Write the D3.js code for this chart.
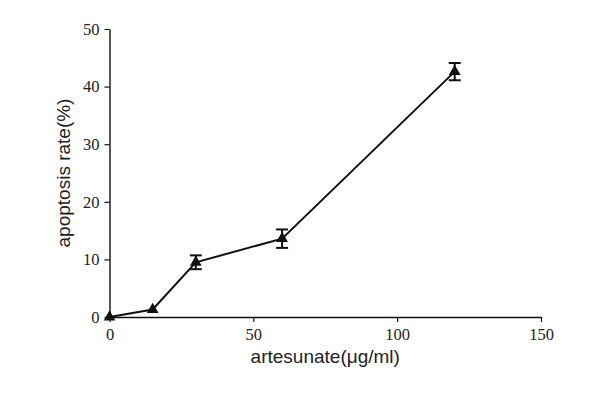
<!DOCTYPE html>
<html>
<head>
<meta charset="utf-8">
<script src="https://cdn.jsdelivr.net/npm/d3@7"></script>
<style>
    body { margin: 0; background: #fff; }
    svg { display: block; }
</style>
</head>
<body>
<svg id="chart" width="596" height="393"></svg>
<script>
(function() {
    // donnees
    var doses = [0, 15, 30, 60, 120];
    var rates = [0, 1.3, 9.5, 13.6, 42.6];
    var erreurs = [0, 0, 1.2, 1.6, 1.5];
    var xTicks = [0, 50, 100, 150];
    var yTicks = [0, 10, 20, 30, 40, 50];

    var svg = d3.select("#chart"),
        margin = { left: 109.5, right: 55, top: 29, bottom: 76 },
        width = 596 - margin.left - margin.right,
        height = 393 - margin.top - margin.bottom;

    var x = d3.scaleLinear().domain([0, 150]).range([0, 431.5]);
    var y = d3.scaleLinear().domain([0, 50]).range([height, 0]);

    var g = svg.append("g").attr("transform", "translate(" + margin.left + "," + margin.top + ")");

    var points = doses.map(function(d, i) {
        return { x: d, y: rates[i], e: erreurs[i] };
    });

    // axes
    var xAxis = g.append("g")
        .attr("transform", "translate(0," + height + ")")
        .call(d3.axisBottom(x).tickValues(xTicks).tickSize(5).tickPadding(6).tickSizeOuter(0));
    var yAxis = g.append("g")
        .call(d3.axisLeft(y).tickValues(yTicks).tickSize(5).tickPadding(5).tickSizeOuter(0));

    [xAxis, yAxis].forEach(function(a) {
        a.select(".domain").attr("stroke", "#111").attr("stroke-width", 1.4);
        a.selectAll(".tick line").attr("stroke", "#111").attr("stroke-width", 1.2);
        a.selectAll(".tick text")
            .attr("fill", "#222")
            .style("font-family", "'Liberation Serif', 'Times New Roman', serif")
            .style("font-size", "16.5px");
    });

    // ligne
    var line = d3.line()
        .x(function(d) { return x(d.x); })
        .y(function(d) { return y(d.y); });

    g.append("path")
        .datum(points)
        .attr("fill", "none")
        .attr("stroke", "#111")
        .attr("stroke-width", 2)
        .attr("d", line);

    // barres d'erreur
    var eb = g.selectAll(".err")
        .data(points.filter(function(d) { return d.e > 0; }))
        .enter().append("g")
        .attr("class", "err")
        .attr("stroke", "#111")
        .attr("stroke-width", 2);
    eb.append("line")
        .attr("x1", function(d) { return x(d.x); })
        .attr("x2", function(d) { return x(d.x); })
        .attr("y1", function(d) { return y(d.y - d.e); })
        .attr("y2", function(d) { return y(d.y + d.e); });
    eb.append("line")
        .attr("x1", function(d) { return x(d.x) - 6; })
        .attr("x2", function(d) { return x(d.x) + 6; })
        .attr("y1", function(d) { return y(d.y + d.e); })
        .attr("y2", function(d) { return y(d.y + d.e); });
    eb.append("line")
        .attr("x1", function(d) { return x(d.x) - 6; })
        .attr("x2", function(d) { return x(d.x) + 6; })
        .attr("y1", function(d) { return y(d.y - d.e); })
        .attr("y2", function(d) { return y(d.y - d.e); });

    // marqueurs triangles
    g.selectAll(".pt")
        .data(points)
        .enter().append("path")
        .attr("class", "pt")
        .attr("fill", "#111")
        .attr("transform", function(d) { return "translate(" + x(d.x) + "," + y(d.y) + ")"; })
        .attr("d", d3.symbol().type(d3.symbolTriangle).size(60));

    // titres des axes
    svg.append("text")
        .attr("x", margin.left + x(75))
        .attr("y", 363)
        .attr("text-anchor", "middle")
        .style("font-family", "'Liberation Sans', Arial, sans-serif")
        .style("font-size", "19px")
        .attr("fill", "#222")
        .text("artesunate(μg/ml)");

    svg.append("text")
        .attr("transform", "translate(70," + (margin.top + y(25)) + ") rotate(-90)")
        .attr("text-anchor", "middle")
        .style("font-family", "'Liberation Sans', Arial, sans-serif")
        .style("font-size", "19px")
        .attr("fill", "#222")
        .text("apoptosis rate(%)");
})();
</script>
</body>
</html>
